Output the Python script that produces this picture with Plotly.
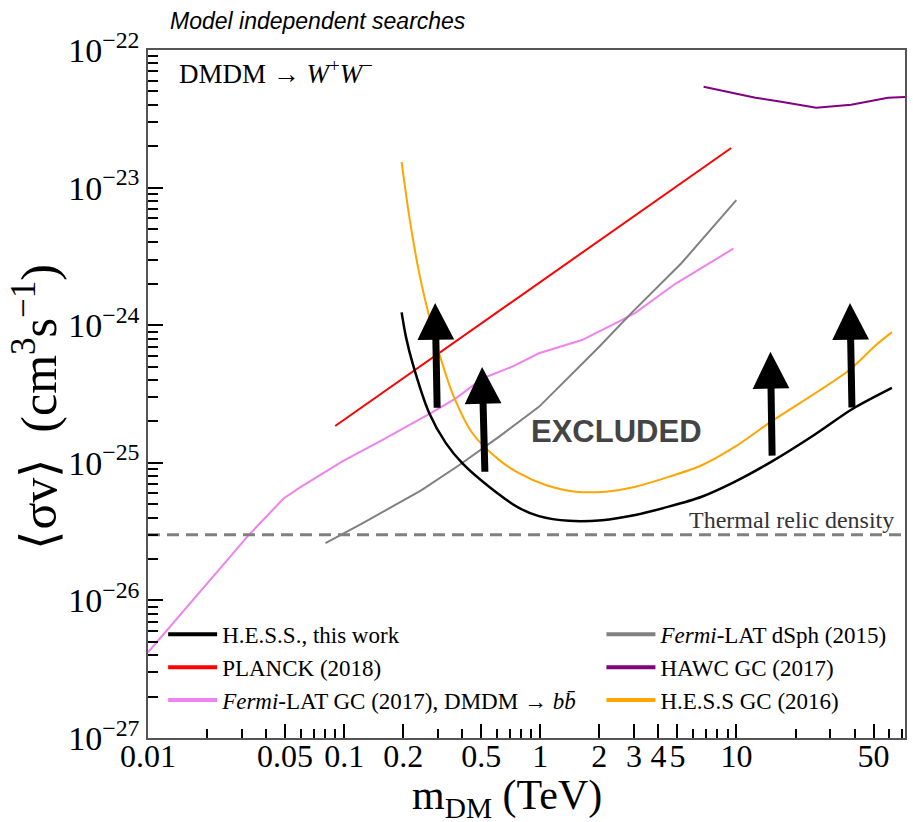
import numpy as np
import plotly.graph_objects as go

# ---------------------------------------------------------------
# Limits on the velocity-weighted annihilation cross section
# <sigma v> (cm^3 s^-1) versus dark-matter mass m_DM (TeV)
# ---------------------------------------------------------------

# H.E.S.S., this work (DMDM -> W+W-)
hess_m = [0.1963, 0.2064, 0.2234, 0.2716, 0.330, 0.401, 0.548, 0.778, 0.984,
          1.398, 2.064, 3.05, 4.51, 6.65, 9.84, 15.1, 25.0, 38.8, 62.0]
hess_sv = [1.24e-24, 8.26e-25, 5.28e-25, 2.29e-25, 1.39e-25, 9.9e-26, 6.7e-26,
           4.7e-26, 4.1e-26, 3.79e-26, 3.83e-26, 4.18e-26, 4.8e-26, 5.67e-26,
           7.3e-26, 1.02e-25, 1.6e-25, 2.45e-25, 3.5e-25]

# PLANCK (2018)
planck_m = [0.09, 9.4]
planck_sv = [1.85e-25, 1.94e-23]

# Fermi-LAT GC (2017), DMDM -> b bbar
fermi_gc_m = [0.01, 0.0326, 0.0491, 0.0593, 0.0984, 0.157, 0.272, 0.371,
              0.507, 0.72, 0.984, 1.63, 2.51, 3.05, 4.88, 9.64]
fermi_gc_sv = [4.2e-27, 2.98e-26, 5.5e-26, 6.6e-26, 1.03e-25, 1.47e-25,
               2.27e-25, 2.94e-25, 4.1e-25, 5.0e-25, 6.25e-25, 7.8e-25,
               1.06e-24, 1.23e-24, 2.0e-24, 3.6e-24]

# Fermi-LAT dSph (2015)
fermi_dsph_m = [0.0803, 0.1225, 0.247, 0.385, 0.617, 0.984, 1.99, 2.92, 5.25, 9.98]
fermi_dsph_sv = [2.61e-26, 3.6e-26, 6.3e-26, 9.6e-26, 1.55e-25, 2.55e-25,
                 6.95e-25, 1.23e-24, 2.83e-24, 8.1e-24]

# HAWC GC (2017)
hawc_m = [6.8, 12.5, 16.9, 25.5, 38.4, 59.2, 73.0]
hawc_sv = [5.4e-23, 4.5e-23, 4.2e-23, 3.8e-23, 4.0e-23, 4.5e-23, 4.55e-23]

# H.E.S.S GC (2016)
hess_gc_m = [0.1963, 0.2148, 0.2415, 0.2716, 0.3051, 0.3566, 0.4508, 0.616,
             0.778, 1.064, 1.512, 2.15, 3.05, 4.51, 6.65, 9.84, 14.7, 37.5,
             51.0, 62.0]
hess_gc_sv = [1.54e-23, 6.15e-24, 2.38e-24, 1.15e-24, 6.25e-25, 3.2e-25,
              1.64e-25, 1.05e-25, 8.4e-26, 6.9e-26, 6.17e-26, 6.17e-26, 6.7e-26,
              7.9e-26, 9.6e-26, 1.31e-25, 1.95e-25, 4.7e-25, 7.1e-25, 8.9e-25]

# Thermal relic cross section
thermal_relic = 3e-26

# "EXCLUDED" arrows: tail and tip positions (TeV, cm^3 s^-1)
arrow_tail_m = [0.298, 0.522, 15.2, 38.8]
arrow_tail_sv = [2.45e-25, 8.4e-26, 1.1e-25, 2.46e-25]
arrow_tip_m = [0.291, 0.505, 14.9, 37.9]
arrow_tip_sv = [1.45e-24, 4.97e-25, 6.4e-25, 1.45e-24]

# Axis extents and ticks
x_limits = [0.01, 72.3]
y_limits = [1e-27, 1e-22]
x_tick_vals = [0.01, 0.05, 0.1, 0.2, 0.5, 1, 2, 3, 4, 5, 10, 50]
x_tick_text = ["0.01", "0.05", "0.1", "0.2", "0.5", "1", "2", "3", "4", "5", "10", "50"]
x_minor_vals = [0.02, 0.03, 0.04, 0.06, 0.07, 0.08, 0.09, 0.3, 0.4, 0.6, 0.7,
                0.8, 0.9, 6, 7, 8, 9, 20, 30, 40, 60, 70]
y_tick_vals = [1e-27, 1e-26, 1e-25, 1e-24, 1e-23, 1e-22]
y_tick_text = ["10<sup>\u221227</sup>", "10<sup>\u221226</sup>", "10<sup>\u221225</sup>",
               "10<sup>\u221224</sup>", "10<sup>\u221223</sup>", "10<sup>\u221222</sup>"]
y_minor_vals = [k * 10.0 ** e for e in range(-27, -22) for k in range(2, 10)]

SERIF = "Liberation Serif, Times New Roman, serif"
SANS = "Liberation Sans, Arial, sans-serif"

fig = go.Figure()


def add_curve(x, y, color, width=2.0, shape="linear"):
    fig.add_trace(go.Scatter(
        x=x, y=y, mode="lines",
        line=dict(color=color, width=width, shape=shape, smoothing=0.8),
        showlegend=False, hoverinfo="skip"))


add_curve(fermi_gc_m, fermi_gc_sv, "violet")
add_curve(fermi_dsph_m, fermi_dsph_sv, "gray")
add_curve(planck_m, planck_sv, "red")
add_curve(hawc_m, hawc_sv, "purple")
add_curve(hess_gc_m, hess_gc_sv, "orange", shape="spline")
add_curve(hess_m, hess_sv, "black", width=2.5, shape="spline")

# thermal relic density (dashed horizontal line across the full mass range)
fig.add_trace(go.Scatter(
    x=x_limits, y=[thermal_relic, thermal_relic], mode="lines",
    line=dict(color="gray", width=3, dash="12px,7px"),
    showlegend=False, hoverinfo="skip"))

# legend entries (two columns)
legend_items = [
    ("H.E.S.S., this work", "black", "legend"),
    ("PLANCK (2018)", "red", "legend"),
    ("<i>Fermi</i>-LAT GC (2017), DMDM \u2192 <i>bb\u0304</i>", "violet", "legend"),
    ("<i>Fermi</i>-LAT dSph (2015)", "gray", "legend2"),
    ("HAWC GC (2017)", "purple", "legend2"),
    ("H.E.S.S GC (2016)", "orange", "legend2"),
]
for name, color, leg in legend_items:
    fig.add_trace(go.Scatter(
        x=[None], y=[None], mode="lines", name=name,
        line=dict(color=color, width=4), legend=leg, showlegend=True))

# arrows pointing into the excluded region
for tm, ts, hm, hs in zip(arrow_tail_m, arrow_tail_sv, arrow_tip_m, arrow_tip_sv):
    fig.add_annotation(
        x=np.log10(hm), y=np.log10(hs), xref="x", yref="y",
        ax=np.log10(tm), ay=np.log10(ts), axref="x", ayref="y",
        text="", showarrow=True, arrowhead=2, arrowsize=1.05,
        arrowwidth=7, arrowcolor="black", standoff=0)

# text labels
fig.add_annotation(
    text="<i>Model independent searches</i>", xref="paper", yref="paper",
    x=0.026, y=1.042, xanchor="left", yanchor="middle", showarrow=False,
    font=dict(family=SANS, size=23, color="black"))
fig.add_annotation(
    text="DMDM \u2192 <i>W</i><sup>+</sup><i>W</i><sup>\u2212</sup>",
    xref="paper", yref="paper", x=0.038, y=0.968, xanchor="left",
    yanchor="middle", showarrow=False,
    font=dict(family=SERIF, size=27, color="black"))
fig.add_annotation(
    text="<b>EXCLUDED</b>", xref="paper", yref="paper", x=0.619, y=0.445,
    xanchor="center", yanchor="middle", showarrow=False,
    font=dict(family=SANS, size=31, color="#444444"))
fig.add_annotation(
    text="Thermal relic density", xref="paper", yref="y",
    x=0.988, y=np.log10(thermal_relic), xanchor="right", yanchor="bottom",
    yshift=0, showarrow=False,
    font=dict(family=SERIF, size=24, color="#333333"))

# axis titles
fig.add_annotation(
    text="m<sub>DM</sub> (TeV)", xref="paper", yref="paper",
    x=0.474, y=-0.087, xanchor="center", yanchor="middle", showarrow=False,
    font=dict(family=SERIF, size=42, color="black"))
fig.add_annotation(
    text="\u27e8\u03c3v\u27e9\u00a0\u00a0(cm<sup>3</sup>s<sup>\u22121</sup>)",
    xref="paper", yref="paper", x=-0.149, y=0.482, xanchor="center",
    yanchor="middle", textangle=-90, showarrow=False,
    font=dict(family=SERIF, size=50, color="black"))

axis_common = dict(
    showline=True, linecolor="#555555", linewidth=1.5, mirror=True,
    showgrid=False, zeroline=False, ticks="inside", tickwidth=2,
    tickcolor="black",
)

fig.update_xaxes(
    type="log", range=[np.log10(x_limits[0]), np.log10(x_limits[1])],
    tickmode="array", tickvals=x_tick_vals, ticktext=x_tick_text, ticklen=14,
    tickfont=dict(family=SERIF, size=32, color="black"), ticklabelstandoff=-11,
    minor=dict(tickmode="array", tickvals=x_minor_vals, ticks="inside",
               ticklen=9, tickwidth=2, tickcolor="black"),
    **axis_common)
fig.update_yaxes(
    type="log", range=[np.log10(y_limits[0]), np.log10(y_limits[1])],
    tickmode="array", tickvals=y_tick_vals, ticktext=y_tick_text, ticklen=15,
    tickfont=dict(family=SERIF, size=34, color="black"),
    minor=dict(tickmode="array", tickvals=y_minor_vals, ticks="inside",
               ticklen=10, tickwidth=2, tickcolor="black"),
    **axis_common)

legend_common = dict(
    font=dict(family=SERIF, size=23, color="black"),
    bgcolor="rgba(0,0,0,0)", borderwidth=0, tracegroupgap=0, itemwidth=49,
    xanchor="left", yanchor="top", orientation="v")

fig.update_layout(
    width=913, height=822,
    margin=dict(l=148, r=6, t=50, b=84),
    paper_bgcolor="white", plot_bgcolor="white",
    legend=dict(x=0.020, y=0.182, **legend_common),
    legend2=dict(x=0.599, y=0.182, **legend_common),
)

fig.write_html("out.html")
